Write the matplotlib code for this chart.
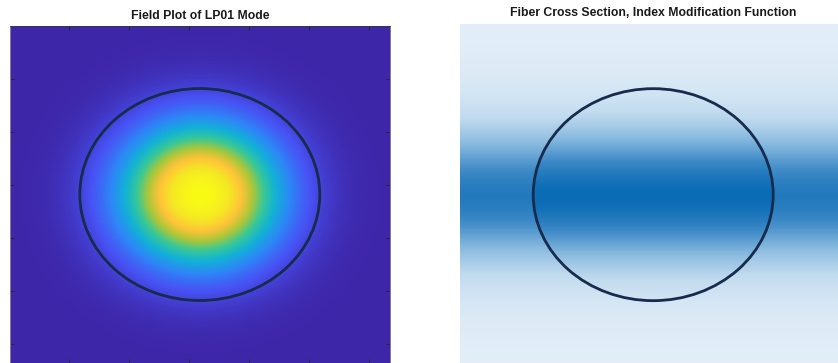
import numpy as np
import matplotlib
matplotlib.use("Agg")
import matplotlib.pyplot as plt
from matplotlib.colors import LinearSegmentedColormap
from matplotlib.patches import Circle

plt.rcParams['font.family'] = ['Liberation Sans', 'DejaVu Sans']

# Simulation grids (pixel indices) for the two panels
n_grid_field = 317
n_grid_index = 322
core_radius = 100.0               # grid units
tick_positions = [50, 100, 150, 200, 250, 300]

# Fibre normalised frequency; LP01 mode-field radius from Marcuse's fit
v_number = 3.5

# Index modification: super-Gaussian along y, reduced outside the core
index_width = 0.66                # in units of core radius
index_order = 1.8
index_offset = 0.02               # centre shift along y, core radii
clad_scale = 0.88

titles = ["Field Plot of LP01 Mode",
          "Fiber Cross Section, Index Modification Function"]

# MATLAB parula, 9 anchor colours
parula_anchors = [
    (0.2422, 0.1504, 0.6603), (0.2810, 0.3228, 0.9579),
    (0.1786, 0.5289, 0.9682), (0.0689, 0.6948, 0.8394),
    (0.2161, 0.7843, 0.5923), (0.6720, 0.7793, 0.2227),
    (0.9970, 0.7659, 0.2199), (0.9598, 0.9106, 0.1423),
    (0.9769, 0.9839, 0.0805)]
blue_anchors = ['#e3eef8', '#c2dbef', '#86b9de', '#3f8ac7', '#0a6cb5']

parula = LinearSegmentedColormap.from_list('parula', parula_anchors)
blues = LinearSegmentedColormap.from_list('index_blues', blue_anchors)


def grid(n):
    c = (n + 1) / 2.0
    idx = np.arange(1, n + 1, dtype=float)
    X, Y = np.meshgrid(idx, idx)
    return X, Y, c


# LP01 intensity (Gaussian mode-field approximation)
Xf, Yf, cf = grid(n_grid_field)
mfr = core_radius * (0.65 + 1.619 / v_number ** 1.5 + 2.879 / v_number ** 6)
rf = np.hypot(Xf - cf, Yf - cf)
intensity = np.exp(-2.0 * (rf / mfr) ** 2)

# Index modification over the fibre cross section
Xi, Yi, ci = grid(n_grid_index)
ri = np.hypot(Xi - ci, Yi - ci) / core_radius
dy = (Yi - ci) / core_radius - index_offset
index_mod = np.exp(-np.abs(dy / index_width) ** index_order)
index_mod = np.where(ri < 1.0, index_mod, clad_scale * index_mod)

W, H = 838.0, 363.0
sx, sy = 1.2, 1.06                # pixels per grid unit
fig = plt.figure(figsize=(W / 100, H / 100), dpi=100)


def place(x0, top, n):
    w, h = n * sx, n * sy
    return fig.add_axes([x0 / W, (H - top - h) / H, w / W, h / H])


ax1 = place(9.6, 26.5, n_grid_field)
ax2 = place(460.0, 24.0, n_grid_index)

for ax, data, cmap, n, c, vr in (
        (ax1, intensity, parula, n_grid_field, cf, (None, None)),
        (ax2, index_mod, blues, n_grid_index, ci, (0, 1))):
    ax.imshow(data, cmap=cmap, extent=[0.5, n + 0.5, n + 0.5, 0.5],
              aspect='auto', interpolation='bilinear',
              vmin=vr[0], vmax=vr[1])
    ax.add_patch(Circle((c, c), core_radius, fill=False,
                        edgecolor='#172b4d', linewidth=2.0))
    ax.set_xlim(0.5, n + 0.5)
    ax.set_ylim(n + 0.5, 0.5)

ax1.set_xticks(tick_positions)
ax1.set_yticks(tick_positions)
ax1.tick_params(direction='in', length=3, width=0.6, color='#262626',
                top=True, right=True, labelbottom=False, labelleft=False)
for sp in ax1.spines.values():
    sp.set_color('#3a3a3a')
    sp.set_linewidth(0.6)
ax1.spines['left'].set_color('#909090')
ax1.spines['right'].set_color('#909090')

ax2.axis('off')

ax1.set_title(titles[0], fontsize=8.8, fontweight='bold', pad=5.5,
              color='#1a1a1a')
ax2.set_title(titles[1], fontsize=8.8, fontweight='bold', pad=5.5,
              color='#1a1a1a', x=(653 - 460) / (n_grid_index * sx))

fig.savefig('out.png', dpi=100)
